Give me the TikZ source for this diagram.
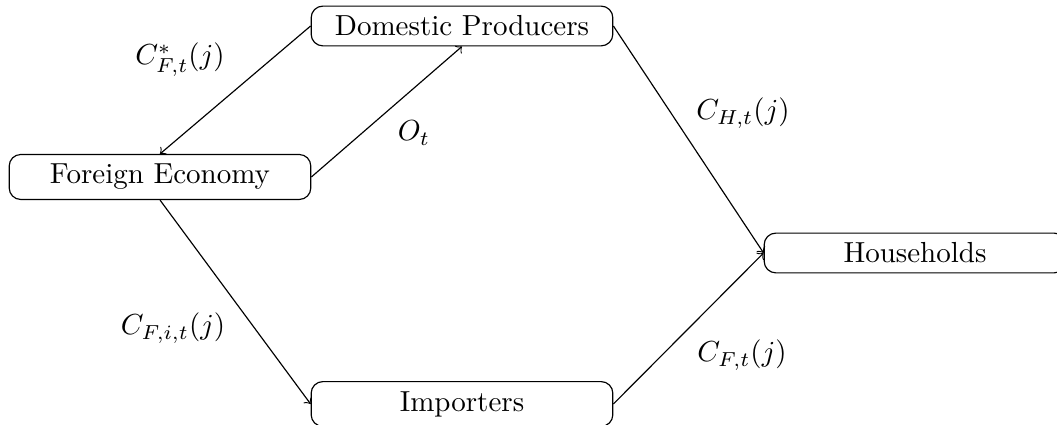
\documentclass[tikz,border=0pt]{standalone}
\begin{document}
\begin{tikzpicture}[x=0.3448pt,y=-0.3448pt,
  box/.style={draw,rounded corners,minimum width=104pt,inner sep=3.33pt},
  flow/.style={->}]
\useasboundingbox (0,0) rectangle (1057,425);
\node[box] (dp) at (462,26) {Domestic Producers};
\node[box] (fe) at (160,177) {Foreign Economy};
\node[box] (hh) at (915,253) {Households};
\node[box] (im) at (462,404) {Importers};
\draw[flow] (dp.west) -- (fe.north);
\draw[flow] (fe.east) -- (dp.south);
\draw[flow] (dp.east) -- (hh.west);
\draw[flow] (fe.south) -- (im.west);
\draw[flow] (im.east) -- (hh.west);
\node (l1) at (180,60) {$C^*_{F,t}(j)$};
\node (l2) at (414,133) {$O_t$};
\node (l3) at (743,113) {$C_{H,t}(j)$};
\node (l4) at (173,328) {$C_{F,i,t}(j)$};
\node (l5) at (742,355) {$C_{F,t}(j)$};
\end{tikzpicture}
\end{document}
